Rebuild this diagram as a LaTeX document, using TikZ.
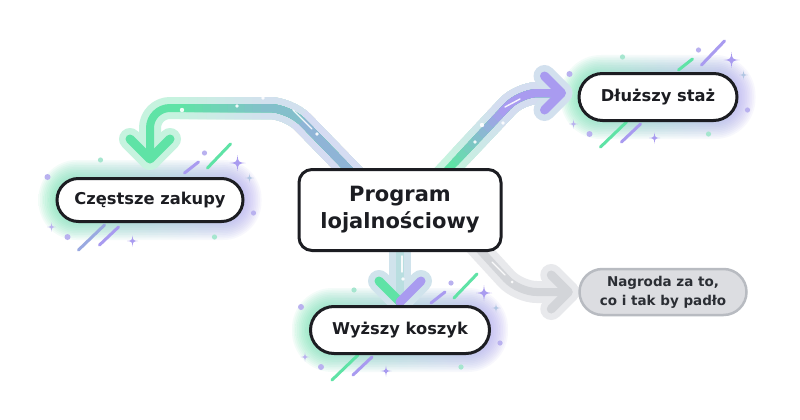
\documentclass[tikz,border=0pt]{standalone}
\usepackage{fontspec}
\setmainfont{DejaVu Sans}
\usetikzlibrary{calc}

\pgfdeclarelayer{canvas}
\pgfdeclarelayer{underlay}
\pgfsetlayers{canvas,underlay,main}

\definecolor{ink}{HTML}{1C1D22}
\definecolor{mint}{HTML}{5FE3A6}
\definecolor{lilac}{HTML}{A99BF0}
\definecolor{mintpale}{HTML}{C6F3DF}
\definecolor{lilacpale}{HTML}{DAD4F8}
\definecolor{tealdot}{HTML}{A6E6CF}
\definecolor{lilacdot}{HTML}{B9B1EF}
\definecolor{greyfill}{HTML}{DCDDE1}
\definecolor{greyrim}{HTML}{B8BBC1}
\definecolor{greyband}{HTML}{E8E9EC}
\definecolor{greyline}{HTML}{D3D5D9}
\definecolor{greytext}{HTML}{2B2E34}

\tikzset{
  box/.style={draw=ink, line width=3pt, fill=white, text=ink, inner sep=0pt, align=center},
  progbox/.style={box, rounded corners=13pt, minimum width=202pt, minimum height=81pt,
    font=\bfseries\fontsize{21}{27}\selectfont},
  pill/.style={box, font=\bfseries\fontsize{16.3}{20}\selectfont},
  greypill/.style={draw=greyrim, line width=2.5pt, fill=greyfill, text=greytext, inner sep=0pt,
    align=center, font=\bfseries\fontsize{13.5}{19}\selectfont},
  band/.style={line width=22pt, line cap=round, line join=round},
  core/.style={line width=8pt, line cap=round, line join=round},
  tipcore/.style={line width=9pt, line cap=round, line join=round},
  glintline/.style={line width=3pt, line cap=round},
  shine/.style={white, opacity=0.9},
  pics/twinkle/.style={code={
    \fill (0,-1) .. controls (0.1,-0.1) .. (1,0) .. controls (0.1,0.1) .. (0,1)
          .. controls (-0.1,0.1) .. (-1,0) .. controls (-0.1,-0.1) .. (0,-1) -- cycle;}},
}

% soft two-tone glow round a pill
\newcommand\haloaround[2]{%
  \foreach \k in {1,...,10}{%
    \pgfmathsetmacro\dd{1.7*\k}%
    \pgfmathsetmacro\rr{#2+1.7*\k}%
    \shade[left color=mint, right color=lilac, fill opacity=0.075, rounded corners=\rr pt]
      ($(#1.south west)+(-\dd,\dd)$) rectangle ($(#1.north east)+(\dd,-\dd)$);
  }}

% dots, strokes and sparkles scattered round a pill
\newcommand\glintsaround[4]{%
  \coordinate (gl) at (#1.west);
  \coordinate (gr) at (#1.east);
  \fill[tealdot] ($(gl)+(45,-40)$) circle (2.6);
  \fill[lilacdot] ($(gl)+(-8,-23)$) circle (3);
  \pic[fill=lilacdot, scale=4.5] at ($(gl)+(-4,27)$) {twinkle};
  \fill[lilacdot] ($(gl)+(12,37)$) circle (3);
  \draw[glintline, #4] ($(gl)+(23,50)$) -- ($(gl)+(49,25)$);
  \draw[glintline, lilac] ($(gl)+(44,45)$) -- ($(gl)+(63,27)$);
  \pic[fill=lilac, scale=5.5] at ($(gl)+(77,41)$) {twinkle};
  \draw[glintline, #2] ($(gr)+(-60,-27)$) -- ($(gr)+(-46,-38)$);
  \draw[glintline, #3] ($(gr)+(-37,-32)$) -- ($(gr)+(-14,-56)$);
  \fill[lilacdot] ($(gr)+(-40,-47)$) circle (2.6);
  \pic[fill=lilac, scale=8] at ($(gr)+(-7,-37)$) {twinkle};
  \pic[fill=lilacdot!60!tealdot, scale=4.5] at ($(gr)+(5,-22)$) {twinkle};
  \fill[lilacdot] ($(gr)+(9,13)$) circle (2.6);
  \fill[tealdot] ($(gr)+(-30,37)$) circle (2.6);
}

\begin{document}
\begin{tikzpicture}[x=1pt, y=-1pt]
  \useasboundingbox (0,0) rectangle (800,420);
  \begin{pgfonlayer}{canvas}
    \fill[white] (0,0) rectangle (800,420);
  \end{pgfonlayer}

  % boxes
  \node[progbox] (prog) at (400,210) {Program\\lojalnościowy};
  \node[pill, minimum width=186pt, minimum height=43pt, rounded corners=21.5pt] (freq) at (150,200) {Częstsze zakupy};
  \node[pill, minimum width=158pt, minimum height=47pt, rounded corners=23.5pt] (tenure) at (658,97) {Dłuższy staż};
  \node[pill, minimum width=179pt, minimum height=47pt, rounded corners=23.5pt] (basket) at (400,330) {Wyższy koszyk};
  \node[greypill, minimum width=167pt, minimum height=46pt, rounded corners=23pt] (reward) at (663,292) {Nagroda za to,\\co i tak by padło};

  \begin{pgfonlayer}{underlay}
    \haloaround{freq}{21.5}
    \haloaround{tenure}{23.5}
    \haloaround{basket}{23.5}

    % programme -> more frequent purchases
    \coordinate (a1s) at ($(prog.north)+(-45,8)$);
    \coordinate (a1k) at ($(prog.north)+(-111,-60)$);
    \coordinate (a1t) at ($(freq.north)+(0,-18)$);
    \coordinate (a1c) at (a1k -| a1t);
    % programme -> longer tenure
    \coordinate (a2s) at ($(prog.north)+(42,8)$);
    \coordinate (a2t) at ($(tenure.west)+(-16,-4)$);
    \coordinate (a2x) at ($(prog.north)+(120,0)$);
    \coordinate (a2k) at (a2x |- a2t);
    % programme -> bigger basket
    \coordinate (a3s) at ($(prog.south)+(0,-8)$);
    \coordinate (a3t) at ($(basket.north)+(0,-3)$);
    % programme -> reward for what would happen anyway
    \coordinate (a4s) at ($(prog.south east)+(-28,-8)$);
    \coordinate (a4t) at ($(reward.west)+(-10,0)$);
    \coordinate (a4x) at ($(prog.south east)+(16,0)$);
    \coordinate (a4k) at (a4x |- a4t);

    % outer bands
    \draw[band, mintpale, rounded corners=20pt] (a1s) -- (a1k) -- (a1c) -- (a1t);
    \foreach \i in {1,...,10}{%
      \pgfmathsetmacro\f{0.15+0.065*\i}\pgfmathsetmacro\p{int(6*\i)}%
      \draw[band, line cap=butt, lilacpale!\p!mintpale, rounded corners=20pt]
        (a1s) -- (a1k) -- ($(a1c)!\f!(a1k)$);}
    \draw[band, line cap=butt, lilacpale!75!mintpale] (a1s) -- ($(a1s)!0.85!(a1k)$);
    \draw[band, mintpale] ($(a1t)+(-20,-20)$) -- (a1t) -- ($(a1t)+(20,-20)$);

    \draw[band, mintpale, rounded corners=18pt] (a2s) -- (a2k) -- (a2t);
    \foreach \i in {1,...,10}{%
      \pgfmathsetmacro\f{0.1+0.065*\i}\pgfmathsetmacro\p{int(7*\i)}%
      \draw[band, line cap=butt, lilacpale!\p!mintpale, rounded corners=18pt]
        ($(a2s)!\f!(a2k)$) -- (a2k) -- (a2t);}
    \draw[band, lilacpale!60!mintpale] ($(a2t)+(-17,-17)$) -- (a2t) -- ($(a2t)+(-17,17)$);

    \draw[band, mintpale!50!lilacpale] (a3s) -- (a3t);
    \draw[band, mintpale!50!lilacpale] ($(a3t)+(-21,-21)$) -- (a3t) -- ($(a3t)+(21,-21)$);

    \draw[band, greyband, rounded corners=18pt] (a4s) -- (a4k) -- (a4t);
    \draw[band, greyband] ($(a4t)+(-17,-17)$) -- (a4t) -- ($(a4t)+(-17,17)$);

    % inner lines
    \draw[core, mint, rounded corners=20pt] (a1s) -- (a1k) -- (a1c) -- (a1t);
    \foreach \i in {1,...,10}{%
      \pgfmathsetmacro\f{0.2+0.06*\i}\pgfmathsetmacro\p{int(5*\i)}%
      \draw[core, line cap=butt, lilac!\p!mint, rounded corners=20pt]
        (a1s) -- (a1k) -- ($(a1c)!\f!(a1k)$);}
    \draw[core, line cap=butt, lilac!65!mint] (a1s) -- ($(a1s)!0.8!(a1k)$);
    \draw[tipcore, mint] ($(a1t)+(-20,-20)$) -- (a1t) -- ($(a1t)+(20,-20)$);

    \draw[core, mint, rounded corners=18pt] (a2s) -- (a2k) -- (a2t);
    \foreach \i in {1,...,10}{%
      \pgfmathsetmacro\f{0.1+0.065*\i}\pgfmathsetmacro\p{int(10*\i)}%
      \draw[core, line cap=butt, lilac!\p!mint, rounded corners=18pt]
        ($(a2s)!\f!(a2k)$) -- (a2k) -- (a2t);}
    \draw[tipcore, lilac] ($(a2t)+(-17,-17)$) -- (a2t) -- ($(a2t)+(-17,17)$);

    \draw[core, lilac!45!mint!55!white] (a3s) -- (a3t);
    \draw[tipcore, mint] ($(a3t)+(-21,-21)$) -- (a3t);
    \draw[tipcore, lilac] ($(a3t)+(21,-21)$) -- (a3t);

    \draw[core, greyline, rounded corners=18pt] (a4s) -- (a4k) -- (a4t);
    \draw[tipcore, greyline] ($(a4t)+(-17,-17)$) -- (a4t) -- ($(a4t)+(-17,17)$);

    % highlights on the lines
    \fill[shine] (182,110) circle (2.2);
    \fill[shine] (237,106) circle (1.8);
    \fill[shine] (263,98) circle (1.8);
    \draw[shine, line width=1.4pt, line cap=round] (293,110) -- (312,129);
    \fill[shine] (317,134) circle (1.8);
    \fill[shine] (482,125) circle (2.2);
    \fill[shine] (503,123) circle (1.8);
    \fill[shine] (475,142) circle (1.8);
    \draw[shine, line width=1.4pt, line cap=round] (505,107) -- (520,99);
    \draw[shine, line width=1.4pt, line cap=round] (402,256) -- (402,272);
    \fill[shine] (403,279) circle (1.8);
    \draw[shine, line width=1.4pt, line cap=round] (492,262) -- (505,275);
    \fill[shine] (512,282) circle (1.5);

    % scattered ornaments
    \glintsaround{freq}{lilac}{mint}{lilac!80!mint}
    \glintsaround{tenure}{mint}{lilac}{mint}
    \glintsaround{basket}{lilac}{mint}{mint}
  \end{pgfonlayer}
\end{tikzpicture}
\end{document}
